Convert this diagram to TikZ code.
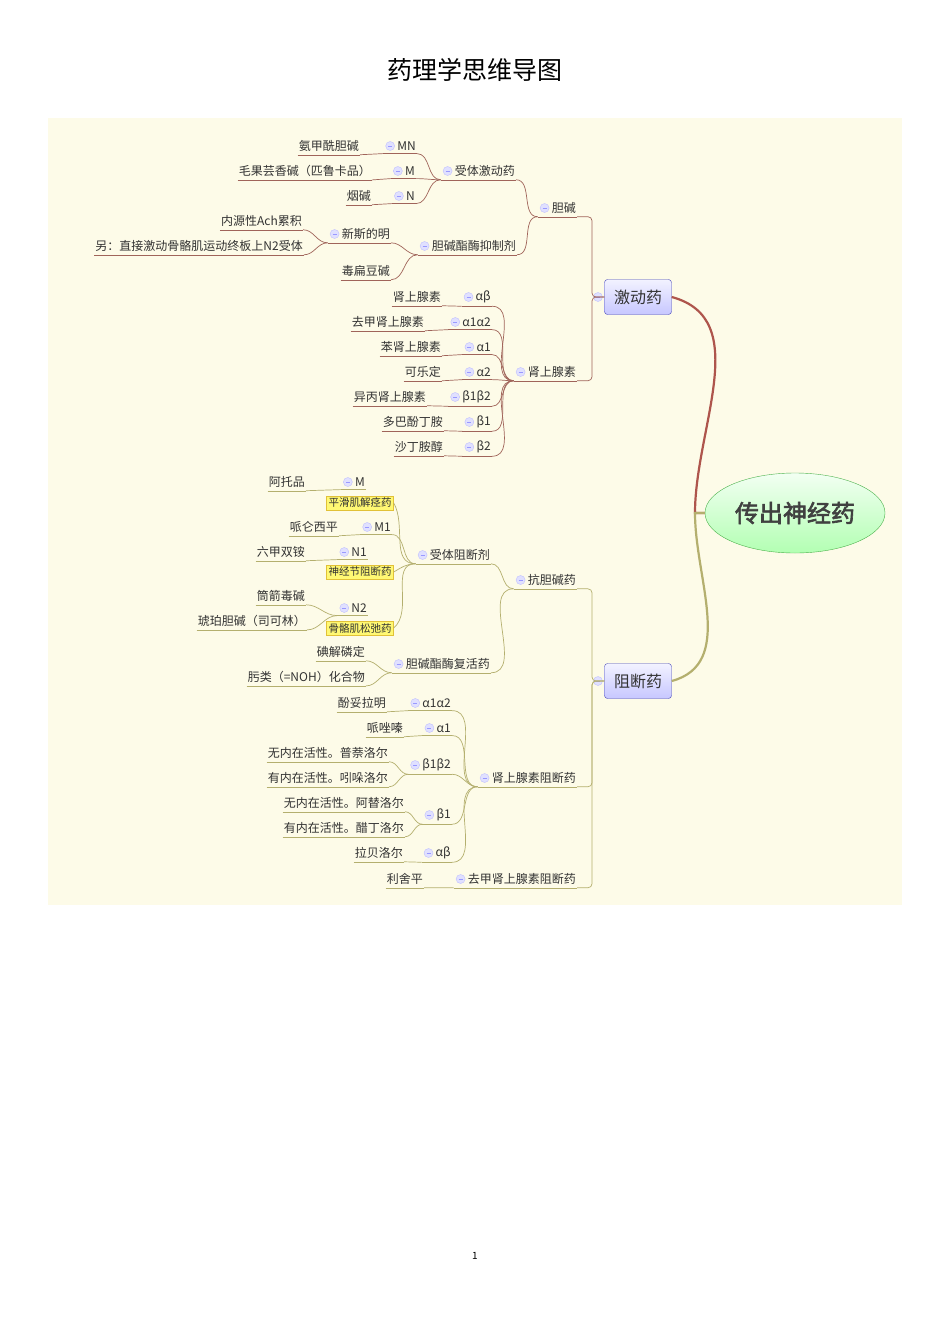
\documentclass[tikz,border=0pt]{standalone}
\usepackage{fontspec}
\usetikzlibrary{shapes.geometric}
\setmainfont{Noto Sans CJK SC}
\newfontfamily\rootfont[FakeBold=2.5]{Noto Sans CJK SC}
\definecolor{bgc}{RGB}{253,251,232}
\definecolor{txt}{RGB}{50,50,50}
\definecolor{topc}{RGB}{160,100,90}
\definecolor{botc}{RGB}{180,175,110}
\tikzset{
    x=1pt, y=-1pt,
    item/.style={anchor=east, inner xsep=1pt, inner ysep=3pt, text=txt, font=\fontsize{12}{14}\selectfont,
        append after command={(\tikzlastnode.south west) edge[draw=\linec] (\tikzlastnode.south east)}},
    par/.style={item, execute at begin node={\hspace*{13pt}},
        append after command={node[tog] at ([xshift=7pt]\tikzlastnode.west) {}}},
    tog/.style={circle, fill=blue!12, draw=blue!25, inner sep=0, minimum size=9pt,
        path picture={\draw[blue!40, line width=0.6pt] ([xshift=-2pt]path picture bounding box.center) -- ([xshift=2pt]path picture bounding box.center);}},
    box/.style={rounded corners=3pt, draw=blue!45!gray, top color=blue!5, bottom color=blue!22,
        minimum width=67pt, minimum height=35pt, text=txt, font=\fontsize{16}{18}\selectfont},
    ybox/.style={fill=yellow!55, draw=yellow!50!brown, inner sep=2pt, text=txt, font=\fontsize{10.5}{12}\selectfont},
    lk/.style={draw=\linec, line width=0.7pt}
    }
\def\linec{topc}

\begin{document}
\begin{tikzpicture}
\useasboundingbox (0,0) rectangle (950,1344);
\fill[bgc] (48,118) rectangle (902,905);
\node (title) at (475,70) {\fontsize{25}{28}\selectfont 药理学思维导图};
\node (pg) at (475,1256) {\fontsize{10}{12}\selectfont 1};

\node[ellipse, draw=green!40!gray, top color=green!5, bottom color=green!30, minimum width=180pt, minimum height=80pt] (root) at (795,513) {\rootfont\fontsize{24}{28}\selectfont\color{black!75}传出神经药};
\node[box] (ag) at (638,297) {激动药};
\node[box] (bl) at (638,681) {阻断药};
\node[tog] at (598,297) {};
\node[tog] at (598,681) {};
\draw[topc!85!red, line width=2.2pt] (root.west) -- (695,513) to[out=90,in=-15] (ag.east);
\draw[botc, line width=2.2pt] (root.west) -- (695,513) to[out=-90,in=15] (bl.east);

% 激动药
\def\linec{topc}
\node[par] (dj) at (577,208) {胆碱};
\node[par] (ad) at (577,372) {肾上腺素};
\node[par] (sj) at (516,171) {受体激动药};
\node[par] (ci) at (517,246) {胆碱酯酶抑制剂};
\node[par] (mn) at (417,146) {MN};
\node[par] (m0) at (416,171) {M};
\node[par] (n0) at (416,196) {N};
\node[item] (l1) at (360,146) {氨甲酰胆碱};
\node[item] (l2) at (372,171) {毛果芸香碱（匹鲁卡品）};
\node[item] (l3) at (372,196) {烟碱};
\node[par] (xs) at (391,234) {新斯的明};
\node[item] (l4) at (303,221) {内源性Ach累积};
\node[item] (l5) at (304,246) {另：直接激动骨骼肌运动终板上N2受体};
\node[item] (l6) at (391,271) {毒扁豆碱};
\foreach \n/\y/\r/\l/\t in {a1/297/αβ/442/肾上腺素, a2/322/α1α2/425/去甲肾上腺素, a3/347/α1/442/苯肾上腺素,
    a4/372/α2/442/可乐定, a5/397/β1β2/427/异丙肾上腺素, a6/422/β1/444/多巴酚丁胺, a7/447/β2/444/沙丁胺醇}{
    \node[par] (\n) at (492,\y) {\r};
    \node[item] (\n x) at (\l,\y) {\t};
    \draw[lk] (\n x.south east) -- (\n.south west);
    \draw[lk] (\n.south east) to[out=0,in=180] (ad.south west);
}
\foreach \c/\p in {dj/ag, ad/ag}
    \draw[lk, rounded corners=4pt] (\c.south east) -- ++(15,0) |- (\p.west);
\foreach \c/\p in {sj/dj, ci/dj, mn/sj, m0/sj, n0/sj, xs/ci, l6/ci, l4/xs, l5/xs}
    \draw[lk] (\c.south east) to[out=0,in=180] (\p.south west);
\foreach \c/\p in {l1/mn, l2/m0, l3/n0}
    \draw[lk] (\c.south east) -- (\p.south west);

% 阻断药
\def\linec{botc}
\node[par] (kd) at (577,580) {抗胆碱药};
\node[par] (ab) at (577,778) {肾上腺素阻断药};
\node[par] (qb) at (577,879) {去甲肾上腺素阻断药};
\node[item] (lsp) at (424,879) {利舍平};
\node[par] (sz) at (491,555) {受体阻断剂};
\node[par] (fh) at (491,664) {胆碱酯酶复活药};
\node[item] (b1) at (366,652) {碘解磷定};
\node[item] (b2) at (366,677) {肟类（=NOH）化合物};
\node[par] (mm) at (366,482) {M};
\node[item] (atp) at (306,482) {阿托品};
\node[ybox] (y1) at (360,503) {平滑肌解痉药};
\node[par] (m1) at (392,527) {M1};
\node[item] (plx) at (339,527) {哌仑西平};
\node[par] (n1) at (368,552) {N1};
\node[item] (lj) at (306,552) {六甲双铵};
\node[ybox] (y2) at (360,572) {神经节阻断药};
\node[par] (n2) at (368,608) {N2};
\node[item] (tj) at (306,596) {筒箭毒碱};
\node[item] (hp) at (307,621) {琥珀胆碱（司可林）};
\node[ybox] (y3) at (360,628) {骨骼肌松弛药};
\node[par] (c1) at (452,703) {α1α2};
\node[item] (c1x) at (387,703) {酚妥拉明};
\node[par] (c2) at (452,728) {α1};
\node[item] (c2x) at (404,728) {哌唑嗪};
\node[par] (c3) at (452,765) {β1β2};
\node[item] (c3a) at (389,753) {无内在活性。普萘洛尔};
\node[item] (c3b) at (389,778) {有内在活性。吲哚洛尔};
\node[par] (c4) at (452,815) {β1};
\node[item] (c4a) at (405,803) {无内在活性。阿替洛尔};
\node[item] (c4b) at (405,828) {有内在活性。醋丁洛尔};
\node[par] (c5) at (452,853) {αβ};
\node[item] (c5x) at (404,853) {拉贝洛尔};
\foreach \c/\p in {kd/bl, ab/bl, qb/bl}
    \draw[lk, rounded corners=4pt] (\c.south east) -- ++(15,0) |- (\p.west);
\foreach \c/\p in {sz/kd, fh/kd, b1/fh, b2/fh, m1/sz, tj/n2, hp/n2, c1/ab, c2/ab, c3/ab, c4/ab, c5/ab,
    c3a/c3, c3b/c3, c4a/c4, c4b/c4}
    \draw[lk] (\c.south east) to[out=0,in=180] (\p.south west);
\foreach \c/\p in {lsp/qb, atp/mm, plx/m1, lj/n1, c1x/c1, c2x/c2, c5x/c5}
    \draw[lk] (\c.south east) -- (\p.south west);
\draw[lk] (y1.east) to[out=-60,in=180] (sz.south west);
\draw[lk] (y2.east) to[out=30,in=180] (sz.south west);
\draw[lk] (y3.east) to[out=40,in=180] (sz.south west);
\end{tikzpicture}
\end{document}
